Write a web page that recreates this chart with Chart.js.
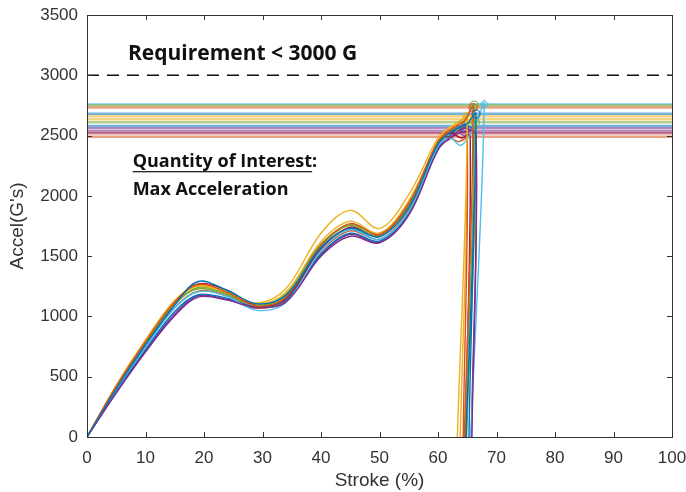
<!DOCTYPE html>
<html>
<head>
<meta charset="utf-8">
<script src="https://cdn.jsdelivr.net/npm/chart.js@4.4.0/dist/chart.umd.min.js"></script>
<style>
  html, body { margin: 0; padding: 0; background: #fff; }
  #wrap { width: 686px; height: 492px; }
</style>
</head>
<body>
<div id="wrap"><canvas id="chart" width="686" height="492"></canvas></div>
<script>
// ---- data ----
// stroke grid (%) shared by every run up to 60 %
const strokeGrid = [0, 5, 10, 15, 19, 24, 29, 34, 40, 45, 50, 55, 60];

// accel (G's) of each run on the shared grid
const accelRuns = [
    [0, 400, 765, 1095, 1290, 1215, 1105, 1175, 1570, 1730, 1660, 1900, 2430],
    [0, 420, 790, 1120, 1265, 1200, 1085, 1160, 1590, 1770, 1680, 1940, 2450],
    [0, 430, 805, 1135, 1255, 1205, 1110, 1230, 1690, 1880, 1730, 2010, 2480],
    [0, 365, 705, 1005, 1160, 1135, 1075, 1120, 1500, 1665, 1610, 1840, 2380],
    [0, 410, 775, 1105, 1230, 1180, 1090, 1185, 1600, 1755, 1665, 1915, 2440],
    [0, 390, 745, 1070, 1205, 1165, 1050, 1115, 1545, 1720, 1640, 1870, 2410],
    [0, 415, 780, 1110, 1270, 1215, 1090, 1150, 1560, 1740, 1670, 1920, 2440],
    [0, 380, 725, 1040, 1180, 1150, 1080, 1140, 1520, 1690, 1625, 1860, 2400],
    [0, 395, 750, 1075, 1210, 1170, 1070, 1140, 1540, 1710, 1640, 1880, 2420],
    [0, 425, 795, 1125, 1250, 1195, 1100, 1200, 1620, 1790, 1690, 1960, 2460],
    [0, 375, 715, 1020, 1170, 1140, 1070, 1130, 1510, 1680, 1615, 1850, 2390],
    [0, 405, 770, 1100, 1240, 1190, 1095, 1165, 1580, 1760, 1690, 1930, 2450]
];

// end of each run: peak area and the drop back to zero
const tailStroke = [
    [62.5, 65, 66.5, 64.8],
    [62.5, 64.5, 66, 64.5],
    [62, 63.5, 65, 63.3],
    [62.5, 64.5, 66.5, 65.8],
    [62, 64, 66.2, 64.6],
    [62, 64, 66.5, 67.9, 65.6],
    [62, 64, 65.5, 64.7],
    [62, 64, 66, 65.3],
    [61.5, 63.5, 65, 64.3],
    [61.5, 63, 65, 63.8],
    [62.5, 64.5, 66.5, 65.7],
    [62, 64, 66.4, 64.9]
];
const tailAccel = [
    [2540, 2600, 2680, 0],
    [2560, 2620, 2732, 0],
    [2560, 2600, 2660, 0],
    [2500, 2560, 2500, 0],
    [2540, 2580, 2752, 0],
    [2480, 2420, 2600, 2760, 0],
    [2520, 2480, 2500, 0],
    [2500, 2580, 2540, 0],
    [2490, 2450, 2470, 0],
    [2550, 2600, 2635, 0],
    [2490, 2535, 2510, 0],
    [2520, 2560, 2610, 0]
];

const requirement = 3000;

// MATLAB default colour order
const palette = ['#0072BD', '#D95319', '#EDB120', '#7E2F8E', '#77AC30', '#4DBEEE', '#A2142F'];

const xTicks = [0, 10, 20, 30, 40, 50, 60, 70, 80, 90, 100];
const yTicks = [0, 500, 1000, 1500, 2000, 2500, 3000, 3500];

// ---- helpers ----
function hexAlpha(hex, a) {
    const n = parseInt(hex.slice(1), 16);
    return `rgba(${(n >> 16) & 255}, ${(n >> 8) & 255}, ${n & 255}, ${a})`;
}

const datasets = [];

accelRuns.forEach((accel, i) => {
    const color = palette[i % palette.length];
    const xs = strokeGrid.concat(tailStroke[i]);
    const ys = accel.concat(tailAccel[i]);
    const points = xs.map((x, k) => ({ x: x, y: ys[k] }));
    const maxVal = Math.max(...ys);
    const maxIdx = ys.indexOf(maxVal);

    // curve with a marker at its max
    datasets.push({
        data: points,
        borderColor: color,
        borderWidth: 1.4,
        tension: 0.35,
        showLine: true,
        order: 1,
        pointRadius: points.map((p, k) => k === maxIdx ? 4 : 0),
        pointStyle: i === 5 ? 'rectRot' : 'circle',
        pointBorderColor: hexAlpha(color, 0.8),
        pointBackgroundColor: 'rgba(0,0,0,0)',
        pointBorderWidth: 1.3
    });

    // horizontal line at the max
    datasets.push({
        data: [{ x: xTicks[0], y: maxVal }, { x: xTicks[xTicks.length - 1], y: maxVal }],
        borderColor: hexAlpha(color, 0.55),
        borderWidth: 2.5,
        showLine: true,
        pointRadius: 0,
        order: 2
    });
});

// requirement line
datasets.push({
    data: [{ x: xTicks[0], y: requirement }, { x: xTicks[xTicks.length - 1], y: requirement }],
    borderColor: '#111',
    borderWidth: 1.5,
    borderDash: [12, 8],
    showLine: true,
    pointRadius: 0,
    order: 0
});

// box and inward ticks, MATLAB style
const boxPlugin = {
    id: 'box',
    afterDatasetsDraw(chart) {
        const { ctx, chartArea: a, scales } = chart;
        const len = 5;
        ctx.save();
        ctx.strokeStyle = '#333';
        ctx.lineWidth = 1;
        ctx.strokeRect(a.left + 0.5, a.top + 0.5, a.right - a.left, a.bottom - a.top);
        ctx.beginPath();
        xTicks.forEach(v => {
            const px = Math.round(scales.x.getPixelForValue(v)) + 0.5;
            ctx.moveTo(px, a.bottom); ctx.lineTo(px, a.bottom - len);
            ctx.moveTo(px, a.top); ctx.lineTo(px, a.top + len);
        });
        yTicks.forEach(v => {
            const py = Math.round(scales.y.getPixelForValue(v)) + 0.5;
            ctx.moveTo(a.left, py); ctx.lineTo(a.left + len, py);
            ctx.moveTo(a.right, py); ctx.lineTo(a.right - len, py);
        });
        ctx.stroke();
        ctx.restore();
    }
};

// text notes inside the axes
const notesPlugin = {
    id: 'notes',
    afterDraw(chart) {
        const { ctx, scales } = chart;
        const x = scales.x, y = scales.y;
        ctx.save();
        ctx.fillStyle = '#111';
        ctx.textBaseline = 'middle';
        ctx.textAlign = 'left';

        ctx.font = "bold 21px 'Open Sans', sans-serif";
        ctx.fillText('Requirement < 3000 G', x.getPixelForValue(7), y.getPixelForValue(3180));

        ctx.font = "bold 18px 'Open Sans', sans-serif";
        const qx = x.getPixelForValue(7.8);
        const qy = y.getPixelForValue(2280);
        const label = 'Quantity of Interest';
        ctx.fillText(label, qx, qy);
        const w = ctx.measureText(label).width;
        ctx.fillText(':', qx + w, qy);
        ctx.fillRect(qx, qy + 9, w, 1.2);
        ctx.fillText('Max Acceleration', qx, y.getPixelForValue(2050));
        ctx.restore();
    }
};

const tickFont = { family: "'Liberation Sans', Arial, sans-serif", size: 17 };
const titleFont = { family: "'Liberation Sans', Arial, sans-serif", size: 19 };

new Chart(document.getElementById('chart'), {
    type: 'scatter',
    data: { datasets: datasets },
    options: {
        responsive: false,
        animation: false,
        layout: { padding: { left: 0, right: 14, top: 15, bottom: 0 } },
        plugins: {
            legend: { display: false },
            tooltip: { enabled: false }
        },
        scales: {
            x: {
                type: 'linear',
                min: 0,
                max: 100,
                afterFit: s => { s.height = 55; s.paddingLeft = 0; s.paddingRight = 0; },
                afterBuildTicks: s => { s.ticks = xTicks.map(v => ({ value: v })); },
                grid: { display: false, drawTicks: false },
                border: { display: false },
                ticks: { font: tickFont, color: '#333', padding: 11, maxRotation: 0, callback: v => String(v) },
                title: { display: true, text: 'Stroke (%)', font: titleFont, color: '#333', padding: { top: 0, bottom: 0 } }
            },
            y: {
                type: 'linear',
                min: 0,
                max: 3500,
                afterFit: s => { s.width = 87; s.paddingTop = 0; s.paddingBottom = 0; },
                afterBuildTicks: s => { s.ticks = yTicks.map(v => ({ value: v })); },
                grid: { display: false, drawTicks: false },
                border: { display: false },
                ticks: { font: tickFont, color: '#333', padding: 9, callback: v => String(v) },
                title: { display: true, text: "Accel(G's)", font: titleFont, color: '#333', padding: { top: 6, bottom: 0 } }
            }
        }
    },
    plugins: [boxPlugin, notesPlugin]
});
</script>
</body>
</html>
